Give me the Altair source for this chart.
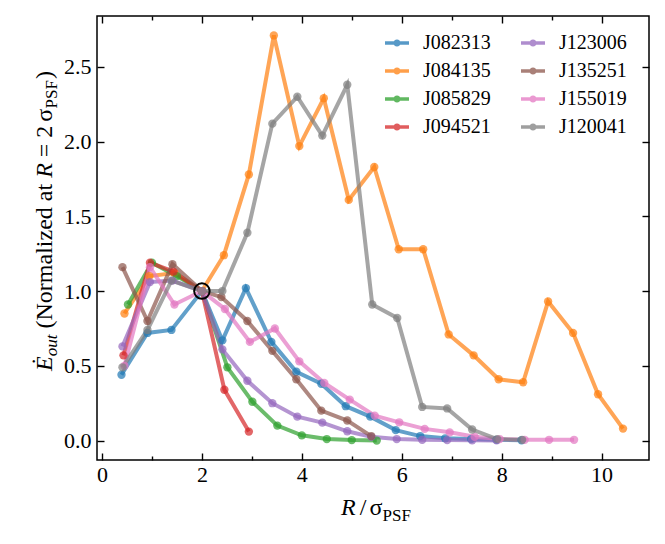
import altair as alt
import pandas as pd

# ---------------- data ----------------
series_names = ["J082313", "J084135", "J085829", "J094521",
                "J123006", "J135251", "J155019", "J120041"]
series_colors = ["#1f77b4", "#ff7f0e", "#2ca02c", "#d62728",
                 "#9467bd", "#8c564b", "#e377c2", "#7f7f7f"]

x_J082313 = [0.39, 0.91, 1.39, 2.0, 2.41, 2.88, 3.39, 3.89, 4.39, 4.88, 5.37, 5.88, 6.37, 6.87, 7.39, 7.9, 8.4]
y_J082313 = [0.44, 0.72, 0.74, 1.0, 0.67, 1.02, 0.66, 0.46, 0.38, 0.23, 0.16, 0.07, 0.03, 0.015, 0.01, 0.005, 0.002]

x_J084135 = [0.45, 0.95, 1.45, 2.0, 2.44, 2.94, 3.44, 3.95, 4.44, 4.94, 5.45, 5.94, 6.43, 6.94, 7.44, 7.94, 8.43, 8.93, 9.43, 9.93, 10.43]
y_J084135 = [0.85, 1.10, 1.12, 1.0, 1.24, 1.78, 2.71, 1.97, 2.29, 1.61, 1.83, 1.28, 1.28, 0.71, 0.57, 0.41, 0.39, 0.93, 0.72, 0.31, 0.08]

x_J085829 = [0.52, 1.0, 1.5, 2.0, 2.51, 3.01, 3.51, 4.0, 4.5, 5.0, 5.5]
y_J085829 = [0.91, 1.19, 1.10, 1.0, 0.49, 0.26, 0.10, 0.035, 0.01, 0.003, 0.0]

x_J094521 = [0.43, 0.96, 1.43, 2.0, 2.45, 2.94]
y_J094521 = [0.57, 1.19, 1.13, 1.0, 0.34, 0.06]

x_J123006 = [0.41, 0.96, 1.41, 2.0, 2.41, 2.91, 3.41, 3.91, 4.41, 4.91, 5.39, 5.9, 6.41, 6.91, 7.41, 7.9]
y_J123006 = [0.63, 1.06, 1.07, 1.0, 0.61, 0.40, 0.25, 0.16, 0.12, 0.062, 0.025, 0.01, 0.005, 0.003, 0.002, 0.001]

x_J135251 = [0.41, 0.91, 1.41, 2.0, 2.39, 2.91, 3.41, 3.89, 4.39, 4.91, 5.39]
y_J135251 = [1.16, 0.80, 1.18, 1.0, 0.96, 0.80, 0.60, 0.41, 0.20, 0.134, 0.03]

x_J155019 = [0.45, 0.96, 1.45, 2.0, 2.46, 2.96, 3.46, 3.95, 4.45, 4.96, 5.46, 5.95, 6.46, 6.96, 7.46, 7.96, 8.46, 8.95, 9.45]
y_J155019 = [0.50, 1.16, 0.91, 1.0, 0.88, 0.66, 0.75, 0.53, 0.385, 0.274, 0.167, 0.122, 0.078, 0.055, 0.025, 0.01, 0.005, 0.005, 0.005]

x_J120041 = [0.41, 0.91, 1.39, 2.0, 2.41, 2.91, 3.41, 3.91, 4.41, 4.91, 5.41, 5.91, 6.41, 6.91, 7.41, 7.91, 8.41]
y_J120041 = [0.49, 0.74, 1.07, 1.0, 1.0, 1.39, 2.12, 2.30, 2.04, 2.38, 0.91, 0.82, 0.225, 0.215, 0.074, 0.01, 0.005]

norm_R = [2.0]
norm_E = [1.0]

x_major = [0, 2, 4, 6, 8, 10]
x_minor = [1, 3, 5, 7, 9]
y_major = [0.0, 0.5, 1.0, 1.5, 2.0, 2.5]

# ---------------- build table ----------------
xy = {
    "J082313": (x_J082313, y_J082313), "J084135": (x_J084135, y_J084135),
    "J085829": (x_J085829, y_J085829), "J094521": (x_J094521, y_J094521),
    "J123006": (x_J123006, y_J123006), "J135251": (x_J135251, y_J135251),
    "J155019": (x_J155019, y_J155019), "J120041": (x_J120041, y_J120041),
}
rows = []
for i, n in enumerate(series_names):
    xs_, ys_ = xy[n]
    for a, b in zip(xs_, ys_):
        rows.append({"series": n, "R": a, "E": b, "k": i})
df = pd.DataFrame(rows)
df_norm = pd.DataFrame({"R": norm_R, "E": norm_E})

# ---------------- layout ----------------
W, H = 552, 444
PADL, PADT = 89, 8
SERIF = "Liberation Serif, Times New Roman, DejaVu Serif, serif"
xsc = alt.Scale(domain=[-0.1, 10.95], nice=False, zero=False)
ysc = alt.Scale(domain=[-0.13, 2.84], nice=False, zero=False)


def ax(orient, values, size=0, offset=0, labels=False, fmt=None, pad=0):
    kw = dict(orient=orient, values=values, domain=False, grid=False, title=None,
              labels=labels, tickColor="black", tickWidth=1.4)
    if size > 0:
        kw.update(ticks=True, tickSize=size, offset=offset)
    else:
        kw.update(ticks=False, tickSize=0)
    if labels:
        kw.update(format=fmt, labelFont=SERIF, labelFontSize=22, labelColor="black",
                  labelPadding=pad)
    return alt.Axis(**kw)


LEG_PATH = ("M-1,-0.15H1V0.15H-1Z "
            "M0.3,0A0.3,0.3,0,1,1,-0.3,0A0.3,0.3,0,1,1,0.3,0Z")

legend = alt.Legend(title=None, orient="none", legendX=288, legendY=15,
                    columns=2, symbolType=LEG_PATH, symbolSize=576,
                    symbolStrokeWidth=0, symbolOpacity=0.75,
                    labelFont=SERIF, labelFontSize=20, labelColor="black",
                    labelOffset=14, rowPadding=6, columnPadding=30, padding=0)
cscale = alt.Scale(domain=series_names, range=series_colors)

lines = alt.Chart(df).mark_line(strokeWidth=4, opacity=0.7).encode(
    x=alt.X("R:Q", scale=xsc, axis=ax("bottom", x_major, labels=True, fmt="d", pad=4)),
    y=alt.Y("E:Q", scale=ysc, axis=ax("left", y_major, labels=True, fmt=".1f", pad=6)),
    color=alt.Color("series:N", scale=cscale, legend=legend),
    detail="series:N",
)

points = alt.Chart(df).mark_circle(size=70, opacity=0.7).encode(
    x=alt.X("R:Q", scale=xsc, axis=ax("bottom", x_major, size=7, offset=-7)),
    y=alt.Y("E:Q", scale=ysc, axis=ax("left", y_major, size=7, offset=-7)),
    color=alt.Color("series:N", scale=cscale, legend=legend),
)

ring = alt.Chart(df_norm).mark_point(shape="circle", size=240, filled=False, color="black",
                                     strokeWidth=2, opacity=1).encode(
    x=alt.X("R:Q", scale=xsc, axis=ax("bottom", x_minor, size=4, offset=-4)),
    y=alt.Y("E:Q", scale=ysc, axis=ax("right", y_major, size=7, offset=-7)),
)

top_major = alt.Chart(df_norm).mark_point(opacity=0).encode(
    x=alt.X("R:Q", scale=xsc, axis=ax("top", x_major, size=7, offset=-7)),
    y=alt.Y("E:Q", scale=ysc, axis=None),
)
top_minor = alt.Chart(df_norm).mark_point(opacity=0).encode(
    x=alt.X("R:Q", scale=xsc, axis=ax("top", x_minor, size=4, offset=-4)),
    y=alt.Y("E:Q", scale=ysc, axis=None),
)

# ---------------- axis titles (with sub-scripts) ----------------
REG = {' ': .25, '(': .333, ')': .333, 'N': .722, 'o': .5, 'r': .333, 'm': .778, 'a': .444,
       'l': .278, 'i': .278, 'z': .444, 'e': .444, 'd': .5, 't': .278, '=': .564, '2': .5,
       '/': .278, 'P': .556, 'S': .556, 'F': .556, 'σ': .55}
ITA = {'R': .611, 'Ė': .611, 'E': .611, 'o': .5, 'u': .5, 't': .278}


def tw(t, s, it):
    tab = ITA if it else REG
    return sum(tab.get(c, .5) for c in t) * s


one = pd.DataFrame({"a": [0]})


def piece(t, x, y, s, it, angle=0):
    kw = dict(text=t, font=SERIF, fontSize=s, align="left", baseline="alphabetic",
              color="black")
    if it:
        kw["fontStyle"] = "italic"
    if angle:
        kw["angle"] = angle
    return alt.Chart(one).mark_text(**kw).encode(x=alt.value(x), y=alt.value(y))


TS, SS = 24, 17
texts = []
# x title: R / sigma_PSF  (text, size, italic, baseline shift, gap after)
xparts = [("R", TS, True, 0, 4), ("/", TS, False, 0, 3), ("σ", TS, False, 0, 0),
          ("PSF", SS, False, 6, 0)]
tot = sum(tw(t, s, it) + g for t, s, it, _, g in xparts)
cx = W / 2 + 3 - tot / 2
for t, s, it, sub, g in xparts:
    texts.append(piece(t, cx, 499 + sub, s, it))
    cx += tw(t, s, it) + g

# y title (rotated, reads upward)
yparts = [("Ė", TS, True, 0, 0), ("out", SS, True, 5, 6), ("(Normalized", TS, False, 0, 6),
          ("at", TS, False, 0, 6), ("R", TS, True, 0, 6), ("=", TS, False, 0, 6),
          ("2", TS, False, 0, 4), ("σ", TS, False, 0, 0), ("PSF", SS, False, 5, 1),
          (")", TS, False, 0, 0)]
tot = sum(tw(t, s, it) + g for t, s, it, _, g in yparts)
cy = 205 + tot / 2
for t, s, it, sub, g in yparts:
    texts.append(piece(t, -45 + sub, cy, s, it, angle=270))
    cy -= tw(t, s, it) + g

chart = alt.layer(lines, points, ring, top_major, top_minor, *texts).resolve_axis(
    x="independent", y="independent"
).properties(
    width=W, height=H,
    autosize=alt.AutoSizeParams(type="none"),
    padding={"left": PADL, "top": PADT, "right": 8, "bottom": 70},
).configure_view(stroke="black", strokeWidth=1.5).configure_axis(
    labelFont=SERIF, labelFontSize=22, labelColor="black"
).configure_legend(labelFont=SERIF)

chart.save("out.html", embed_options={"renderer": "svg", "actions": False})
